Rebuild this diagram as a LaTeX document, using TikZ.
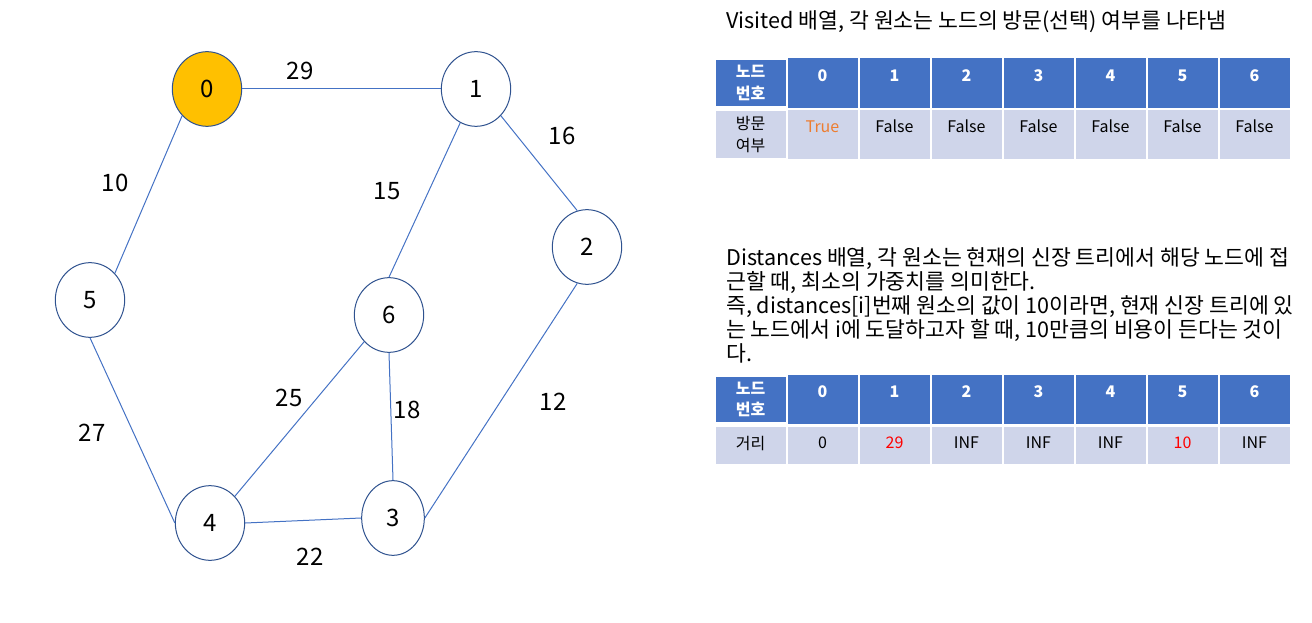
\documentclass[tikz,border=0pt]{standalone}
\usepackage{fontspec}
\setmainfont{Noto Sans CJK KR}
\usetikzlibrary{shapes.geometric}
\definecolor{edgeblue}{HTML}{4472C4}
\definecolor{nodeline}{HTML}{2F528F}
\definecolor{gold}{HTML}{FFC000}
\definecolor{headblue}{HTML}{4472C4}
\definecolor{rowgray}{HTML}{CFD5EA}
\definecolor{trueorange}{HTML}{ED7D31}
\newcommand{\celltop}{\rule{0pt}{18pt}}

\begin{document}
\begin{tikzpicture}[
    x=0.75pt, y=-0.75pt,
    vertex/.style={ellipse, draw=nodeline, line width=0.75pt, fill=white,
                   minimum width=52pt, minimum height=56pt, inner sep=0pt,
                   font=\fontsize{18}{20}\selectfont},
    startvertex/.style={vertex, fill=gold},
    edge/.style={draw=edgeblue, line width=0.75pt},
    weight/.style={inner sep=0pt, font=\fontsize{18}{20}\selectfont},
    caption/.style={anchor=west, align=left, inner sep=0pt,
                    font=\fontsize{16.2}{17.9}\selectfont},
    cell/.style={rectangle, draw=white, line width=1.5pt, minimum width=54pt,
                 align=center, inner sep=0pt, font=\fontsize{12}{16}\selectfont},
    headcell/.style={cell, fill=headblue, text=white,
                     font=\fontsize{12}{16}\selectfont\bfseries},
    datacell/.style={cell, fill=rowgray},
]
\useasboundingbox (0,0) rectangle (1312,623);

% graph
\node[startvertex] (n0) at (207,89)  {0};
\node[vertex] (n1) at (476,89)  {1};
\node[vertex] (n2) at (587,247) {2};
\node[vertex, minimum width=47pt] (n3) at (393,518) {3};
\node[vertex] (n4) at (210,523) {4};
\node[vertex] (n5) at (90,300)  {5};
\node[vertex] (n6) at (389,315) {6};

\draw[edge] (n0.east) -- (n1.west);
\draw[edge] (n0.south west) -- (n5.north east);
\draw[edge] (n1.south east) -- (n2.105);
\draw[edge] (n1.245) -- (n6.north);
\draw[edge] (n6.south west) -- (n4.north east);
\draw[edge] (n6.south) -- (n3.north);
\draw[edge] (n2.255) -- (n3.east);
\draw[edge] (n5.south) -- (n4.west);
\draw[edge] (n4.east) -- (n3.west);

\node[weight] (w01) at (300,71)  {29};
\node[weight] (w12) at (562,136) {16};
\node[weight] (w05) at (115,183) {10};
\node[weight] (w16) at (387,191) {15};
\node[weight] (w64) at (289,398) {25};
\node[weight] (w63) at (407,410) {18};
\node[weight] (w23) at (553,402) {12};
\node[weight] (w54) at (92,433)  {27};
\node[weight] (w43) at (310,557) {22};

% visited table
\node[caption] (vtitle) at (726,22) {Visited 배열, 각 원소는 노드의 방문(선택) 여부를 나타냄};
\node[headcell, minimum height=36pt] (vh) at (750.5,83) {노드\\번호};
\node[datacell, minimum height=37pt] (vd) at (750.5,134.5) {방문\\여부};
\foreach \v [count=\k] in {0,...,6}
  \node[headcell, minimum height=36pt] (vh\v) at (750.5+72*\k,83) {\celltop\v\\\strut};
\foreach \t/\c [count=\k] in {True/trueorange,False/black,False/black,False/black,False/black,False/black,False/black}
  \node[datacell, minimum height=37pt, text=\c] (vd\k) at (750.5+72*\k,134.5) {\celltop\t\\\strut};

% distances table
\node[caption] (dtitle) at (726,305.5) {Distances 배열, 각 원소는 현재의 신장 트리에서 해당 노드에 접\\
근할 때, 최소의 가중치를 의미한다.\\
즉, distances[i]번째 원소의 값이 10이라면, 현재 신장 트리에 있\\
는 노드에서 i에 도달하고자 할 때, 10만큼의 비용이 든다는 것이\\
다.};
\node[headcell, minimum height=35pt] (dh) at (750.5,399.5) {노드\\번호};
\node[datacell, minimum height=29pt] (dd) at (750.5,445.5) {\raisebox{4pt}{거리}};
\foreach \v [count=\k] in {0,...,6}
  \node[headcell, minimum height=35pt] (dh\v) at (750.5+72*\k,399.5) {\celltop\v\\\strut};
\foreach \t/\c [count=\k] in {0/black,29/red,INF/black,INF/black,INF/black,10/red,INF/black}
  \node[datacell, minimum height=29pt, text=\c] (dd\k) at (750.5+72*\k,445.5) {\raisebox{4pt}{\t}};

\end{tikzpicture}
\end{document}
